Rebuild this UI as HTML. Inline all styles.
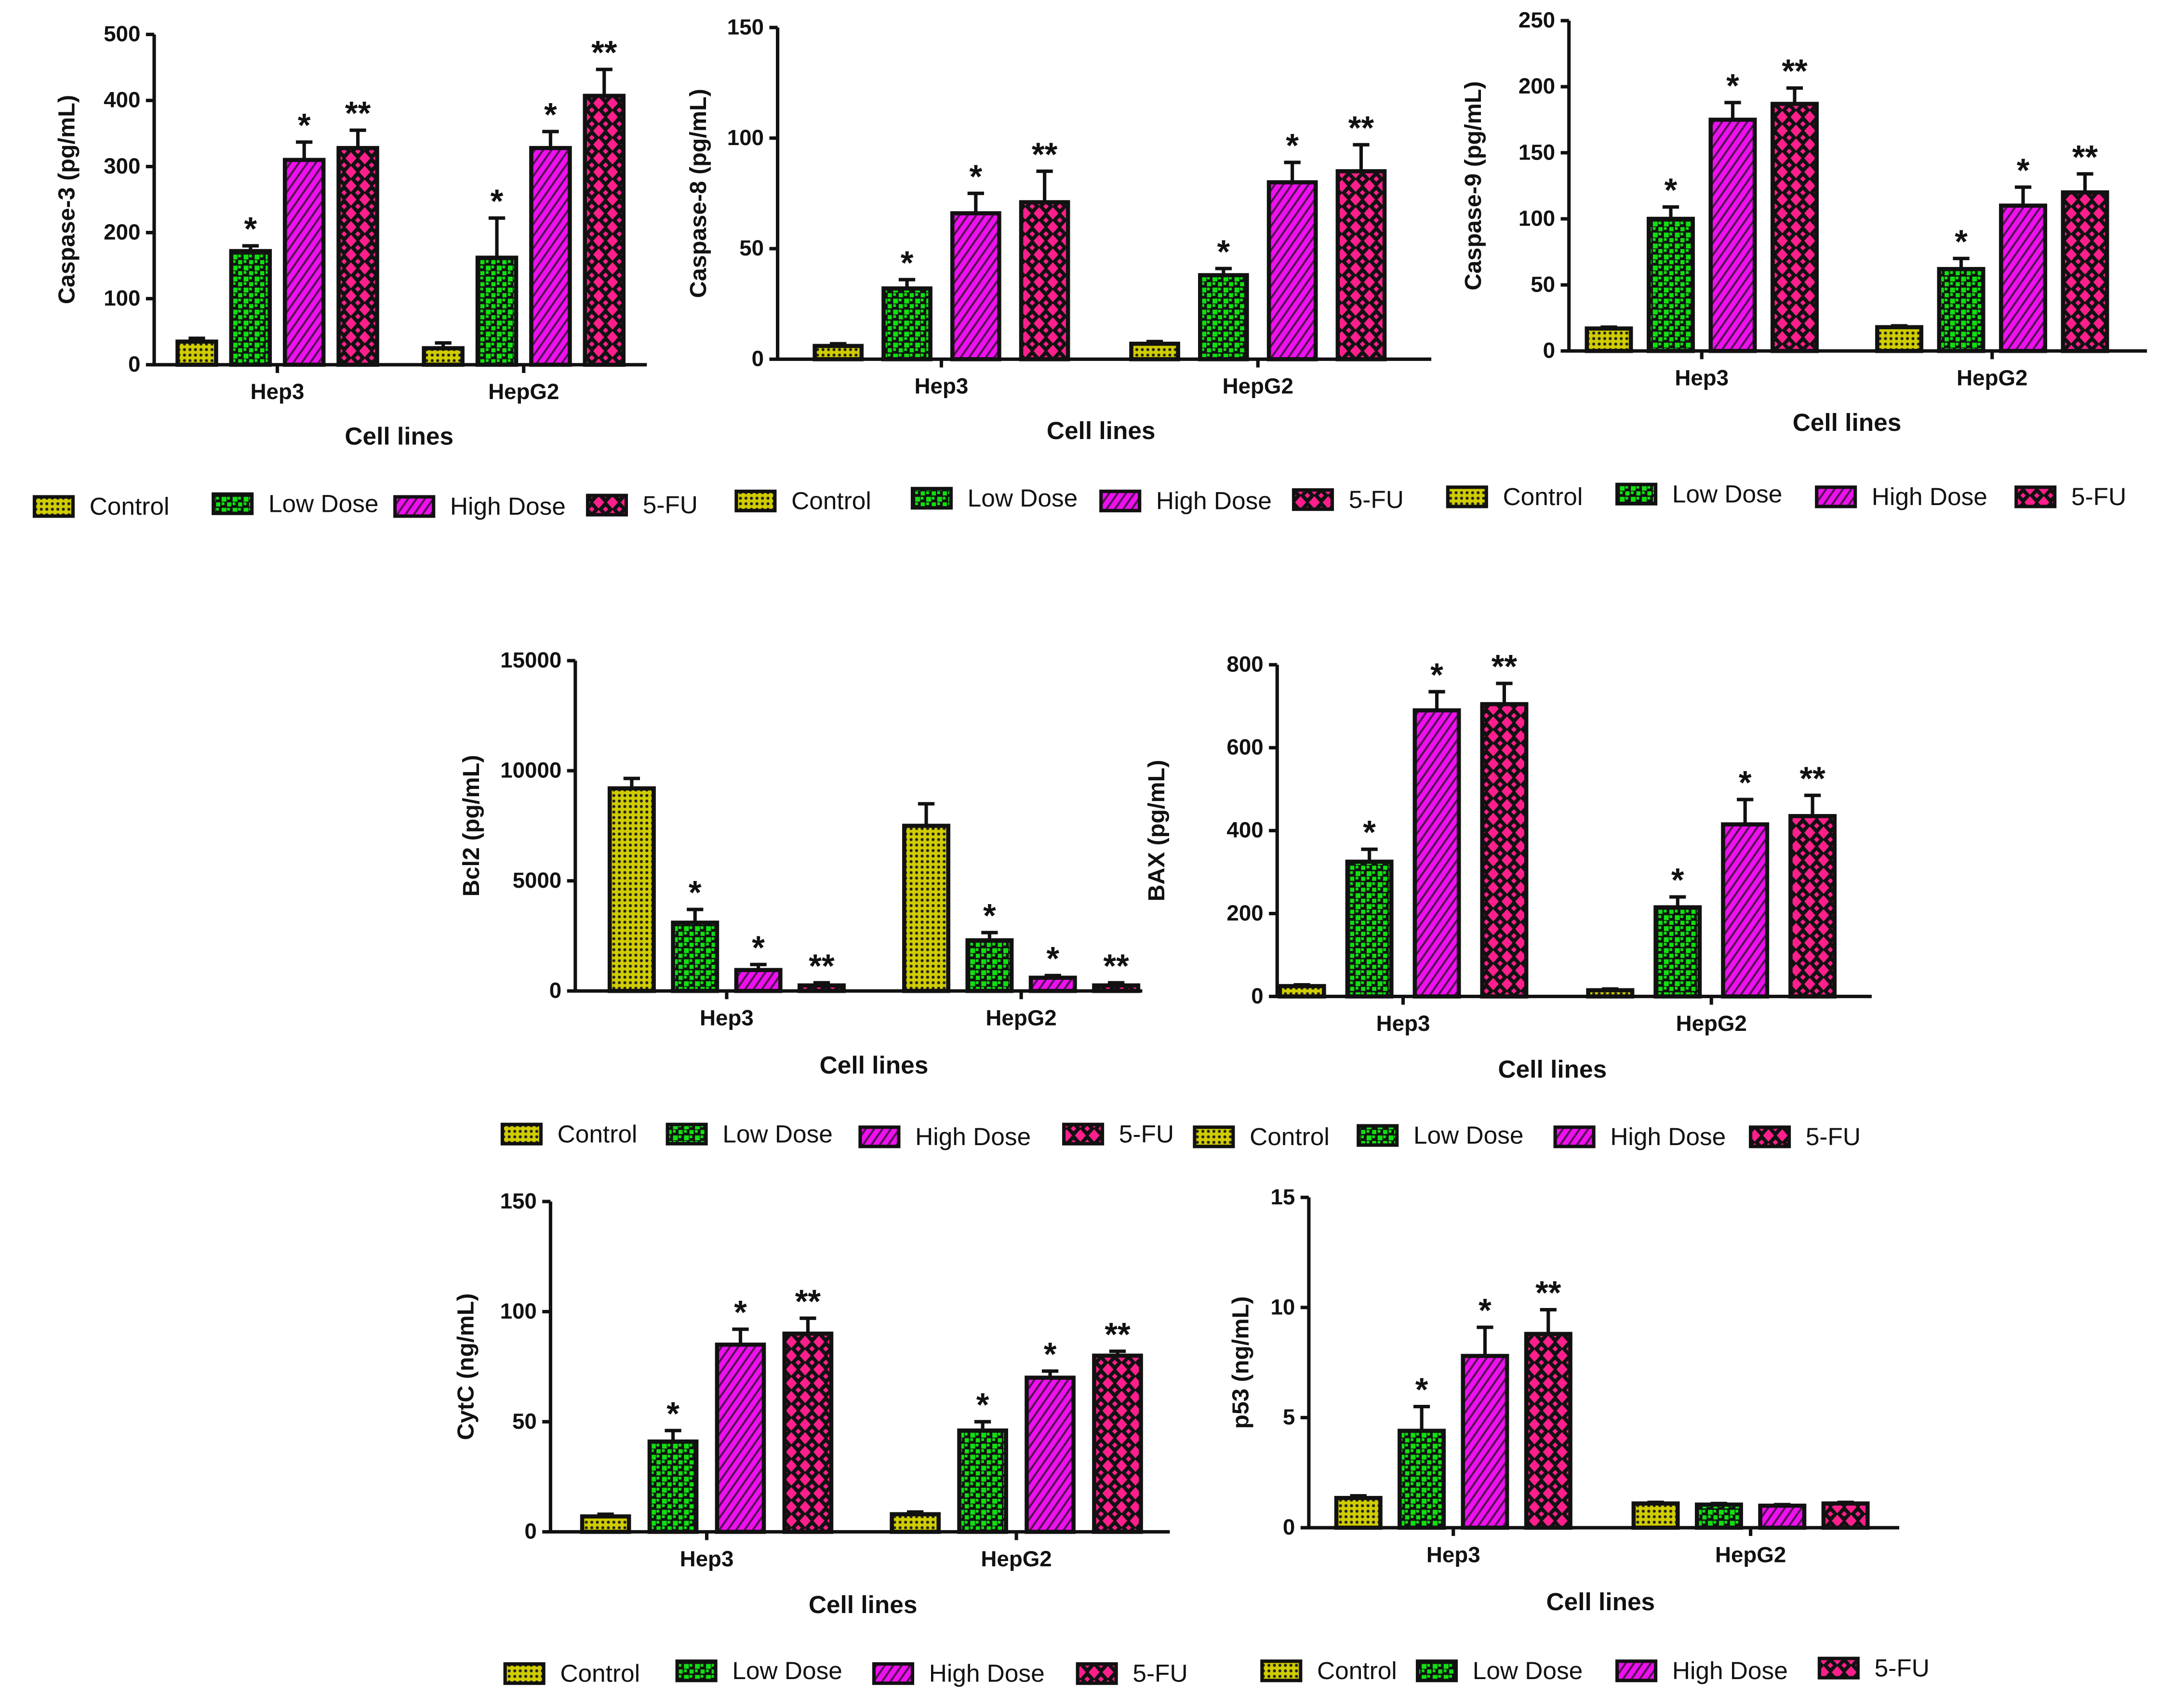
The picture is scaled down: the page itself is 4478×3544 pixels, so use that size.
<!DOCTYPE html>
<html><head><meta charset="utf-8"><style>
html,body{margin:0;padding:0;background:#fff;}
svg{display:block;}
text{font-family:"Liberation Sans",Arial,sans-serif;fill:#111;}
</style></head><body>
<svg id="fig" xmlns="http://www.w3.org/2000/svg" width="4478" height="3544" viewBox="0 0 1568 1241">
<defs>
<pattern id="pCtrl" patternUnits="userSpaceOnUse" width="4" height="4"><rect width="4" height="4" fill="#d0cc00"/><circle cx="2" cy="2" r="1.1" fill="#222"/></pattern>
<pattern id="pLow" patternUnits="userSpaceOnUse" width="8" height="8"><rect width="8" height="8" fill="#111"/><rect x="1" y="1" width="3.5" height="3.5" fill="#11e011"/><rect x="5" y="5" width="3.5" height="3.5" fill="#11e011"/><rect x="1" y="5" width="2" height="2" fill="#11e011"/><rect x="5" y="1" width="2" height="2" fill="#11e011"/></pattern>
<pattern id="pHigh" patternUnits="userSpaceOnUse" width="5" height="5" patternTransform="rotate(35)"><rect width="5" height="5" fill="#ee10ee"/><rect width="1.5" height="5" fill="#551155"/></pattern>
<pattern id="p5fu" patternUnits="userSpaceOnUse" width="10" height="10"><rect width="10" height="10" fill="#111"/><path d="M5 0.5 L9 5 L5 9.5 L1 5Z" fill="#ff1f8c"/><path d="M0 0 L2 0 L0 2Z M10 0 L8 0 L10 2Z M0 10 L2 10 L0 8Z M10 10 L8 10 L10 8Z" fill="#ff1f8c"/></pattern>
</defs>
<g id="root"></g>
</svg>
<script>
// ---- data ----
const groups = ["Hep3","HepG2"];
const seriesNames = ["Control","Low Dose","High Dose","5-FU"];
const casp3Vals = [[35,172,310,328],[25,162,328,407]];
const casp3Err  = [[5,8,27,27],[8,60,25,40]];
const casp8Vals = [[6,32,66,71],[7,38,80,85]];
const casp8Err  = [[1,4,9,14],[1,3,9,12]];
const casp9Vals = [[17,100,175,187],[18,62,110,120]];
const casp9Err  = [[1,9,13,12],[1,8,14,14]];
const bcl2Vals  = [[9200,3100,950,250],[7500,2300,600,250]];
const bcl2Err   = [[450,600,250,120],[1000,350,100,120]];
const baxVals   = [[25,325,690,705],[15,215,415,435]];
const baxErr    = [[3,30,45,50],[3,25,60,50]];
const cytcVals  = [[7,41,85,90],[8,46,70,80]];
const cytcErr   = [[1,5,7,7],[1,4,3,2]];
const p53Vals   = [[1.35,4.4,7.8,8.8],[1.1,1.05,1.0,1.1]];
const p53Err    = [[0.1,1.1,1.3,1.1],[0.05,0.05,0.05,0.05]];
const stars3 = [["","*","*","**"],["","*","*","**"]];
const starsP53 = [["","*","*","**"],["","","",""]];
const casp3Ticks=[0,100,200,300,400,500];
const casp8Ticks=[0,50,100,150];
const casp9Ticks=[0,50,100,150,200,250];
const bcl2Ticks=[0,5000,10000,15000];
const baxTicks=[0,200,400,600,800];
const cytcTicks=[0,50,100,150];
const p53Ticks=[0,5,10,15];

const fills=["url(#pCtrl)","url(#pLow)","url(#pHigh)","url(#p5fu)"];
const NS="http://www.w3.org/2000/svg";
const root=document.getElementById('root');
function mk(tag,attrs,parent){const e=document.createElementNS(NS,tag);for(const k in attrs)e.setAttribute(k,attrs[k]);(parent||root).appendChild(e);return e;}

function chart(cfg){
  const g=mk('g',{});
  
  
  const ymax=cfg.ticks[cfg.ticks.length-1];
  const y=v=>cfg.yb-(v/ymax)*(cfg.yb-cfg.yt);
  const ya=mk('line',{x1:cfg.x0,y1:cfg.yt,x2:cfg.x0,y2:cfg.yb+1,stroke:'#111','stroke-width':2.5},g);
  
  
  const xa=mk('line',{x1:cfg.x0-1,y1:cfg.yb,x2:cfg.x1,y2:cfg.yb,stroke:'#111','stroke-width':2.5},g);
  
  
  cfg.ticks.forEach(t=>{
    mk('line',{x1:cfg.x0-6,y1:y(t),x2:cfg.x0,y2:y(t),stroke:'#111','stroke-width':2.5},g);
    const tl=mk('text',{x:cfg.x0-10,y:y(t)+5,'text-anchor':'end','font-size':16,'font-weight':'bold'},g);
    tl.textContent=t;
    
    
  });
  const yl=mk('text',{x:0,y:0,'text-anchor':'middle','font-size':17,'font-weight':'bold',transform:`translate(${cfg.x0-cfg.ylOff},${(cfg.yt+cfg.yb)/2}) rotate(-90)`},g);
  yl.textContent=cfg.ylabel;
  
  
  groups.forEach((gn,gi)=>{
    const gx=cfg.gstart[gi];
    const center=gx+1.5*cfg.step+cfg.bw/2;
    mk('line',{x1:center,y1:cfg.yb,x2:center,y2:cfg.yb+6,stroke:'#111','stroke-width':2.5},g);
    const gl=mk('text',{x:center,y:cfg.yb+25,'text-anchor':'middle','font-size':16,'font-weight':'bold'},g);
    gl.textContent=gn;
    
    
    cfg.vals[gi].forEach((v,si)=>{
      const bx=gx+si*cfg.step;
      const top=y(v), et=y(v+cfg.err[gi][si]);
      const cx=bx+cfg.bw/2;
      const el=mk('line',{x1:cx,y1:top,x2:cx,y2:et,stroke:'#111','stroke-width':2.5},g);
      
      
      mk('line',{x1:cx-6,y1:et,x2:cx+6,y2:et,stroke:'#111','stroke-width':2.5},g);
      const r=mk('rect',{x:bx,y:top,width:cfg.bw,height:Math.max(cfg.yb-top,0.5),fill:fills[si],stroke:'#111','stroke-width':3},g);
      
      
      const s=cfg.stars[gi][si];
      if(s){
        const st=mk('text',{x:cx,y:et-4,'text-anchor':'middle','font-size':24,'font-weight':'bold'},g);
        st.textContent=s;
        
        
      }
    });
  });
  const xl=mk('text',{x:cfg.xlx,y:cfg.xly,'text-anchor':'middle','font-size':18,'font-weight':'bold'},g);
  xl.textContent='Cell lines';
  
  
  const lg=mk('g',{},g);
  
  
  cfg.leg.forEach((lx,si)=>{
    const ly=cfg.legY[si];
    const sw=mk('rect',{x:lx,y:ly-12,width:28,height:14,fill:fills[si],stroke:'#111','stroke-width':2.5},lg);
    
    
    const t=mk('text',{x:lx+40,y:ly+1,'font-size':18},lg);
    t.textContent=seriesNames[si];
    
    
  });
}

chart({name:'caspase-3',x0:112,x1:470,yt:25,yb:265,ticks:casp3Ticks,ylabel:'Caspase-3 (pg/mL)',ylOff:58,vals:casp3Vals,err:casp3Err,stars:stars3,gstart:[129,308],step:39,bw:28,xlx:290,xly:323,leg:[25,155,287,427],legY:[373,371,373,372]});
chart({name:'caspase-8',x0:565,x1:1040,yt:20,yb:261,ticks:casp8Ticks,ylabel:'Caspase-8 (pg/mL)',ylOff:52,vals:casp8Vals,err:casp8Err,stars:stars3,gstart:[592,822],step:50,bw:34,xlx:800,xly:319,leg:[535,663,800,940],legY:[369,367,369,368]});
chart({name:'caspase-9',x0:1140,x1:1560,yt:15,yb:255,ticks:casp9Ticks,ylabel:'Caspase-9 (pg/mL)',ylOff:64,vals:casp9Vals,err:casp9Err,stars:stars3,gstart:[1153,1364],step:45,bw:32,xlx:1342,xly:313,leg:[1052,1175,1320,1465],legY:[366,364,366,366]});
chart({name:'bcl2',x0:418,x1:830,yt:480,yb:720,ticks:bcl2Ticks,ylabel:'Bcl2  (pg/mL)',ylOff:70,vals:bcl2Vals,err:bcl2Err,stars:stars3,gstart:[443,657],step:46,bw:32,xlx:635,xly:780,leg:[365,485,625,773],legY:[829,829,831,829]});
chart({name:'bax',x0:928,x1:1360,yt:483,yb:724,ticks:baxTicks,ylabel:'BAX (pg/mL)',ylOff:82,vals:baxVals,err:baxErr,stars:stars3,gstart:[930,1154],step:49,bw:32,xlx:1128,xly:783,leg:[868,987,1130,1272],legY:[831,830,831,831]});
chart({name:'cytc',x0:400,x1:850,yt:873,yb:1113,ticks:cytcTicks,ylabel:'CytC (ng/mL)',ylOff:56,vals:cytcVals,err:cytcErr,stars:stars3,gstart:[423,648],step:49,bw:34,xlx:627,xly:1172,leg:[367,492,635,783],legY:[1221,1219,1221,1221]});
chart({name:'p53',x0:951,x1:1380,yt:870,yb:1110,ticks:p53Ticks,ylabel:'p53 (ng/mL)',ylOff:44,vals:p53Vals,err:p53Err,stars:starsP53,gstart:[971,1187],step:46,bw:32,xlx:1163,xly:1170,leg:[917,1030,1175,1322],legY:[1219,1219,1219,1217]});
</script>
</body></html>
